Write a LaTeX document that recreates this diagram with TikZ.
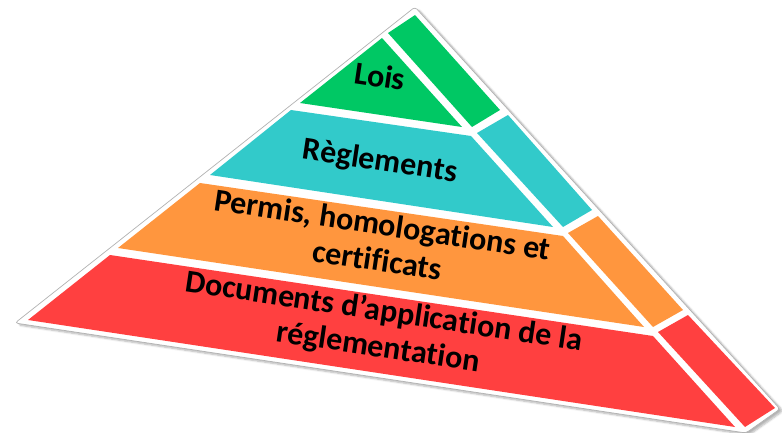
\documentclass[tikz,border=0pt]{standalone}
\usepackage{fontspec}
\setmainfont{Carlito}[Ligatures=NoCommon]
\usetikzlibrary{shadows.blur}
\definecolor{cgreen}{RGB}{0,200,100}
\definecolor{cteal}{RGB}{50,202,202}
\definecolor{corange}{RGB}{255,150,62}
\definecolor{cred}{RGB}{255,64,64}
\begin{document}
\begin{tikzpicture}[x=1pt,y=-1pt,
  lbl/.style={font=\bfseries\fontsize{32}{36}\selectfont, align=center, rotate=-8.5, inner sep=0pt, text=black}]
\useasboundingbox (0,0) rectangle (782,433);
% white base with outline and shadow
\fill[white, draw=black!30, line width=0.7pt, rounded corners=3pt,
  blur shadow={shadow xshift=3pt, shadow yshift=-2pt, shadow blur steps=6, shadow opacity=30}]
  (415,7) -- (780,409) -- (746,433) -- (15,323) -- cycle;
% front faces
\fill[cgreen]  (382,38) -- (462,127) -- (300,103) -- cycle;
\fill[cteal]   (291,110) -- (471,136) -- (553,227) -- (210,175) -- cycle;
\fill[corange] (200,183) -- (563,236) -- (644,327) -- (118,248) -- cycle;
\fill[cred]    (110,255) -- (653,336) -- (735,427) -- (28,320) -- cycle;
% side faces
\fill[cgreen]  (388,33) -- (415,15) -- (500,110) -- (472,127) -- cycle;
\fill[cteal]   (477,133) -- (508,115) -- (592,210) -- (563,227) -- cycle;
\fill[corange] (568,233) -- (598,216) -- (683,310) -- (653,327) -- cycle;
\fill[cred]    (658,332) -- (688,315) -- (775,408) -- (745,427) -- cycle;
% labels
\node[lbl] (lois) at (380,76) {Lois};
\node[lbl] (regl) at (380,162) {Règlements};
\node[lbl] (perm) at (380,242) {Permis, homologations et\\certificats};
\node[lbl] (docs) at (381,330) {Documents d’application de la\\réglementation};
\end{tikzpicture}
\end{document}
